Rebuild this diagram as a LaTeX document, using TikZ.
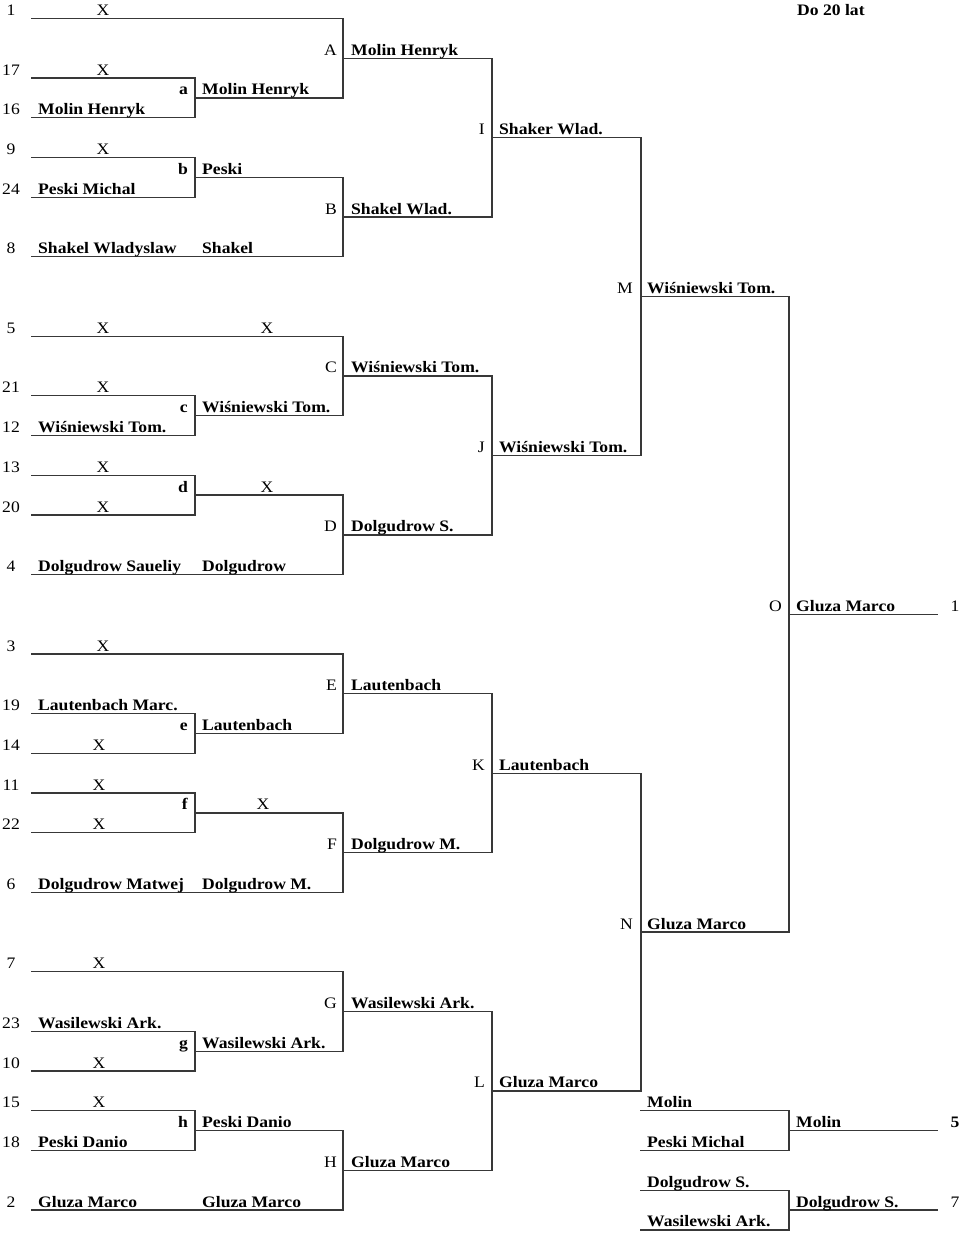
\documentclass[tikz,border=0pt]{standalone}
\usepackage{fontspec}
\setmainfont[FakeStretch=1.1]{Liberation Serif}
\newcounter{tc}
\tikzset{
  ln/.style={draw=black!78, line width=1.3pt, line cap=rect},
  base/.style={inner sep=0pt, yshift=3pt, font=\fontsize{16}{19}\selectfont},
  nm/.style={base, anchor=base west, font=\fontsize{16}{19}\selectfont\bfseries},
  tw/.style={base, anchor=base west},
  sd/.style={base, anchor=base},
  sdb/.style={base, anchor=base, font=\fontsize{16}{19}\selectfont\bfseries},
  rl/.style={base, anchor=base east},
  rlb/.style={base, anchor=base east, font=\fontsize{16}{19}\selectfont\bfseries},
}
% horizontal line: x1 x2 row ; vertical line: x row1 row2
\newcommand\hl[3]{\draw[ln] (#1,#3) -- (#2,#3);}
\newcommand\vl[3]{\draw[ln] (#1,#2) -- (#1,#3);}
\newcommand\tnode[4]{\stepcounter{tc}\node[#1] (t\arabic{tc}) at (#2,#3) {#4};}
\newcommand\sdn[2]{\tnode{sd}{11}{#1}{#2}}
\newcommand\xx[2]{\tnode{sd}{#1}{#2}{X}}
\newcommand\nm[3]{\tnode{nm}{#1}{#2}{#3}}
\begin{document}
\begin{tikzpicture}[x=1pt,y=-19.86pt]
\useasboundingbox (0,-0.9315) rectangle (960,61.204);
\def\xo{32}\def\Va{195}\def\Vb{343}\def\Vc{492}\def\Vd{641}\def\Ve{789}\def\Xf{937}
\def\La{188}\def\Lb{337}\def\Lc{485}\def\Ld{633}\def\Le{782}
\def\Na{202}\def\Nb{351}\def\Nc{499}\def\Nd{647}\def\Ne{796}

\nm{797}{0}{Do 20 lat}

% ---------- Block 1 ----------
\hl{\xo}{\Vb}{0} \sdn{0}{1} \xx{103}{0}
\hl{\xo}{\Va}{3} \sdn{3}{17} \xx{103}{3}
\hl{\xo}{\Va}{5} \sdn{5}{16} \nm{38}{5}{Molin Henryk}
\vl{\Va}{3}{5} \hl{\Va}{\Vb}{4} \tnode{rlb}{\La}{4}{a} \nm{\Na}{4}{Molin Henryk}
\hl{\xo}{\Va}{7} \sdn{7}{9} \xx{103}{7}
\hl{\xo}{\Va}{9} \sdn{9}{24} \nm{38}{9}{Peski Michal}
\vl{\Va}{7}{9} \hl{\Va}{\Vb}{8} \tnode{rlb}{\La}{8}{b} \nm{\Na}{8}{Peski}
\hl{\xo}{\Vb}{12} \sdn{12}{8} \nm{38}{12}{Shakel Wladyslaw} \nm{\Na}{12}{Shakel}
\vl{\Vb}{0}{4} \hl{\Vb}{\Vc}{2} \tnode{rl}{\Lb}{2}{A} \nm{\Nb}{2}{Molin Henryk}
\vl{\Vb}{8}{12} \hl{\Vb}{\Vc}{10} \tnode{rl}{\Lb}{10}{B} \nm{\Nb}{10}{Shakel Wlad.}
\vl{\Vc}{2}{10} \hl{\Vc}{\Vd}{6} \tnode{rl}{\Lc}{6}{I} \nm{\Nc}{6}{Shaker Wlad.}

% ---------- Block 2 ----------
\hl{\xo}{\Vb}{16} \sdn{16}{5} \xx{103}{16} \xx{267}{16}
\hl{\xo}{\Va}{19} \sdn{19}{21} \xx{103}{19}
\hl{\xo}{\Va}{21} \sdn{21}{12} \nm{38}{21}{Wiśniewski Tom.}
\vl{\Va}{19}{21} \hl{\Va}{\Vb}{20} \tnode{rlb}{\La}{20}{c} \nm{\Na}{20}{Wiśniewski Tom.}
\hl{\xo}{\Va}{23} \sdn{23}{13} \xx{103}{23}
\hl{\xo}{\Va}{25} \sdn{25}{20} \xx{103}{25}
\vl{\Va}{23}{25} \hl{\Va}{\Vb}{24} \tnode{rlb}{\La}{24}{d} \xx{267}{24}
\hl{\xo}{\Vb}{28} \sdn{28}{4} \nm{38}{28}{Dolgudrow Saueliy} \nm{\Na}{28}{Dolgudrow}
\vl{\Vb}{16}{20} \hl{\Vb}{\Vc}{18} \tnode{rl}{\Lb}{18}{C} \nm{\Nb}{18}{Wiśniewski Tom.}
\vl{\Vb}{24}{28} \hl{\Vb}{\Vc}{26} \tnode{rl}{\Lb}{26}{D} \nm{\Nb}{26}{Dolgudrow S.}
\vl{\Vc}{18}{26} \hl{\Vc}{\Vd}{22} \tnode{rl}{\Lc}{22}{J} \nm{\Nc}{22}{Wiśniewski Tom.}
\vl{\Vd}{6}{22} \hl{\Vd}{\Ve}{14} \tnode{rl}{\Ld}{14}{M} \nm{\Nd}{14}{Wiśniewski Tom.}

% ---------- Block 3 ----------
\hl{\xo}{\Vb}{32} \sdn{32}{3} \xx{103}{32}
\hl{\xo}{\Va}{35} \sdn{35}{19} \nm{38}{35}{Lautenbach Marc.}
\hl{\xo}{\Va}{37} \sdn{37}{14} \xx{99}{37}
\vl{\Va}{35}{37} \hl{\Va}{\Vb}{36} \tnode{rlb}{\La}{36}{e} \nm{\Na}{36}{Lautenbach}
\hl{\xo}{\Va}{39} \sdn{39}{11} \xx{99}{39}
\hl{\xo}{\Va}{41} \sdn{41}{22} \xx{99}{41}
\vl{\Va}{39}{41} \hl{\Va}{\Vb}{40} \tnode{rlb}{\La}{40}{f} \xx{263}{40}
\hl{\xo}{\Vb}{44} \sdn{44}{6} \nm{38}{44}{Dolgudrow Matwej} \nm{\Na}{44}{Dolgudrow M.}
\vl{\Vb}{32}{36} \hl{\Vb}{\Vc}{34} \tnode{rl}{\Lb}{34}{E} \nm{\Nb}{34}{Lautenbach}
\vl{\Vb}{40}{44} \hl{\Vb}{\Vc}{42} \tnode{rl}{\Lb}{42}{F} \nm{\Nb}{42}{Dolgudrow M.}
\vl{\Vc}{34}{42} \hl{\Vc}{\Vd}{38} \tnode{rl}{\Lc}{38}{K} \nm{\Nc}{38}{Lautenbach}

% ---------- Block 4 ----------
\hl{\xo}{\Vb}{48} \sdn{48}{7} \xx{99}{48}
\hl{\xo}{\Va}{51} \sdn{51}{23} \nm{38}{51}{Wasilewski Ark.}
\hl{\xo}{\Va}{53} \sdn{53}{10} \xx{99}{53}
\vl{\Va}{51}{53} \hl{\Va}{\Vb}{52} \tnode{rlb}{\La}{52}{g} \nm{\Na}{52}{Wasilewski Ark.}
\hl{\xo}{\Va}{55} \sdn{55}{15} \xx{99}{55}
\hl{\xo}{\Va}{57} \sdn{57}{18} \nm{38}{57}{Peski Danio}
\vl{\Va}{55}{57} \hl{\Va}{\Vb}{56} \tnode{rlb}{\La}{56}{h} \nm{\Na}{56}{Peski Danio}
\hl{\xo}{\Vb}{60} \sdn{60}{2} \nm{38}{60}{Gluza Marco} \nm{\Na}{60}{Gluza Marco}
\vl{\Vb}{48}{52} \hl{\Vb}{\Vc}{50} \tnode{rl}{\Lb}{50}{G} \nm{\Nb}{50}{Wasilewski Ark.}
\vl{\Vb}{56}{60} \hl{\Vb}{\Vc}{58} \tnode{rl}{\Lb}{58}{H} \nm{\Nb}{58}{Gluza Marco}
\vl{\Vc}{50}{58} \hl{\Vc}{\Vd}{54} \tnode{rl}{\Lc}{54}{L} \nm{\Nc}{54}{Gluza Marco}
\vl{\Vd}{38}{54} \hl{\Vd}{\Ve}{46} \tnode{rl}{\Ld}{46}{N} \nm{\Nd}{46}{Gluza Marco}

% ---------- Final ----------
\vl{\Ve}{14}{46} \hl{\Ve}{\Xf}{30} \tnode{rl}{\Le}{30}{O} \nm{\Ne}{30}{Gluza Marco}
\tnode{sd}{955}{30}{1}

% ---------- Places 5 and 7 ----------
\hl{\Vd}{\Ve}{55} \nm{\Nd}{55}{Molin}
\hl{\Vd}{\Ve}{57} \nm{\Nd}{57}{Peski Michal}
\vl{\Ve}{55}{57} \hl{\Ve}{\Xf}{56} \nm{\Ne}{56}{Molin} \tnode{sdb}{955}{56}{5}
\hl{\Vd}{\Ve}{59} \nm{\Nd}{59}{Dolgudrow S.}
\hl{\Vd}{\Ve}{61} \nm{\Nd}{61}{Wasilewski Ark.}
\vl{\Ve}{59}{61} \hl{\Ve}{\Xf}{60} \nm{\Ne}{60}{Dolgudrow S.} \tnode{sd}{955}{60}{7}
\end{tikzpicture}
\end{document}
